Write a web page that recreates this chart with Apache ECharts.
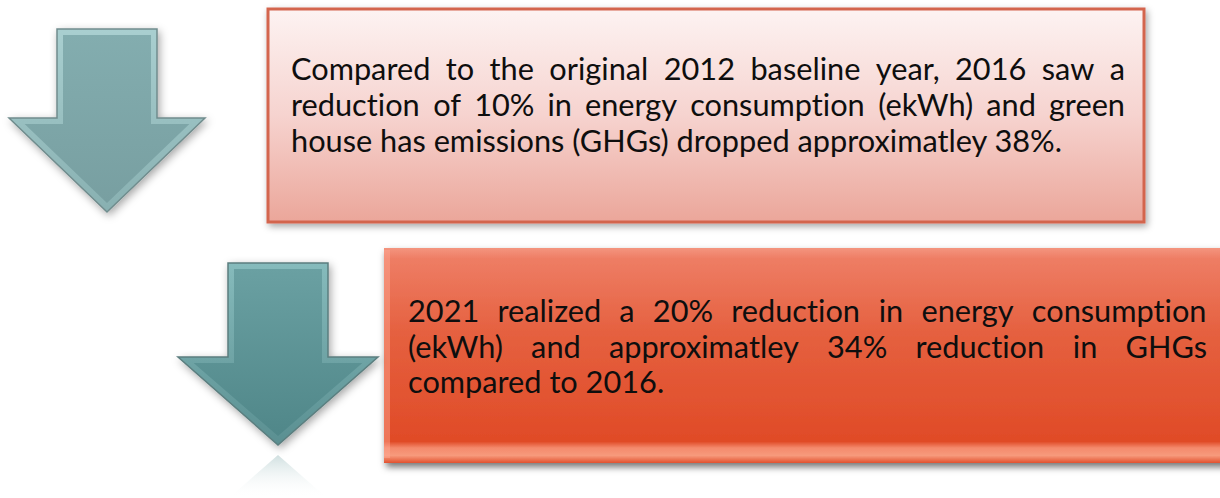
<!DOCTYPE html>
<html><head><meta charset="utf-8">
<script src="https://cdn.jsdelivr.net/npm/echarts@6/dist/echarts.min.js"></script>
<style>html,body{margin:0;padding:0;background:#fff;overflow:hidden}#c{width:1220px;height:498px}
#c text{font-variant-ligatures:none;font-feature-settings:"liga" 0,"clig" 0}</style>
</head><body><div id="c"></div>
<script>
// ---- content ----
const box1Lines = [
  "Compared to the original 2012 baseline year, 2016 saw a",
  "reduction of 10% in energy consumption (ekWh) and green",
  "house has emissions (GHGs) dropped approximatley 38%."
];
const box2Lines = [
  "2021 realized a 20% reduction in energy consumption",
  "(ekWh) and approximatley 34% reduction in GHGs",
  "compared to 2016."
];
const FONT_FAMILY = 'Lato';
const TEXT_COLOR = '#0e0e0e';

// ---- helpers ----
const chart = echarts.init(document.getElementById('c'), null, {renderer: 'svg'});
const mctx = document.createElement('canvas').getContext('2d');
function measure(t, fs) { mctx.font = fs + 'px ' + FONT_FAMILY; return mctx.measureText(t).width; }
const fs = 30 * 772 / measure(box1Lines[2], 30);

function textBlock(lines, left, right, firstBaseline, lineGap) {
  const els = [];
  lines.forEach((line, i) => {
    const y = firstBaseline + i * lineGap - 0.3 * fs;
    const st = {fontSize: fs, fontFamily: FONT_FAMILY, fill: TEXT_COLOR, align: 'left', verticalAlign: 'middle'};
    if (i === lines.length - 1) {
      els.push({type: 'text', x: left, y: y, z: 20, style: Object.assign({text: line}, st)});
      return;
    }
    const words = line.split(' ');
    const ws = words.map(w => measure(w, fs));
    const total = ws.reduce((a, b) => a + b, 0);
    const gap = (right - left - total) / (words.length - 1);
    let x = left;
    words.forEach((w, j) => {
      els.push({type: 'text', x: x, y: y, z: 20, style: Object.assign({text: w}, st)});
      x += ws[j] + gap;
    });
  });
  return els;
}

function arrowPts(cx, sh, top, neck, hh, tip) {
  return [[cx - sh, top], [cx + sh, top], [cx + sh, neck], [cx + hh, neck], [cx, tip], [cx - hh, neck], [cx - sh, neck]];
}
function lg(stops) {
  return new echarts.graphic.LinearGradient(0, 0, 0, 1, stops.map(s => ({offset: s[0], color: s[1]})));
}
function arrow(cx, sh, top, neck, hh, tip, c) {
  const b = 6;
  return [
    {type: 'polygon', z: 5, shape: {points: arrowPts(cx, sh, top, neck, hh, tip)},
     style: {fill: lg([[0, c.bevelTop], [1, c.bevelBot]]), stroke: c.stroke, lineWidth: 1.5,
             shadowBlur: 8, shadowOffsetX: 2, shadowOffsetY: 3, shadowColor: 'rgba(0,0,0,0.35)'}},
    {type: 'polygon', z: 6, shape: {points: arrowPts(cx, sh - b, top + b, neck + b, hh - b * 2.6, tip - b * 1.5)},
     style: {fill: lg([[0, c.top], [1, c.bot]])}}
  ];
}

const graphics = [];
// box 1
graphics.push({type: 'rect', z: 2, shape: {x: 268, y: 9, width: 876, height: 213},
  style: {fill: lg([[0, '#fdf3f2'], [0.5, '#f6d3cf'], [1, '#eba69a']]), stroke: '#d3654e', lineWidth: 3,
          shadowBlur: 7, shadowOffsetX: 2, shadowOffsetY: 3, shadowColor: 'rgba(0,0,0,0.35)'}});
// box 2
graphics.push({type: 'rect', z: 2, shape: {x: 384, y: 248, width: 850, height: 215},
  style: {fill: lg([[0, '#f4957f'], [0.05, '#ee7d64'], [0.4, '#e5603f'], [0.9, '#e04b27'], [0.93, '#f48a6c'], [0.965, '#f79a7c'], [1, '#e2522f']]),
          shadowBlur: 7, shadowOffsetX: 2, shadowOffsetY: 4, shadowColor: 'rgba(0,0,0,0.55)'}});
graphics.push({type: 'rect', z: 3, shape: {x: 384, y: 250, width: 6, height: 208},
  style: {fill: 'rgba(255,170,150,0.45)'}});

// arrows
graphics.push(...arrow(107, 50, 29, 118, 98, 212,
  {bevelTop: '#a9cfd0', bevelBot: '#88b0b1', top: '#83adaf', bot: '#789fa1', stroke: '#708c8d'}));
graphics.push(...arrow(278, 50, 263, 357, 100, 445,
  {bevelTop: '#86bbbc', bevelBot: '#5a8f91', top: '#6aa0a2', bot: '#508789', stroke: '#5b7e7f'}));
// reflection
graphics.push({type: 'polygon', z: 1, shape: {points: [[278, 455], [278 + 49, 498], [278 - 49, 498]]},
  style: {fill: lg([[0, 'rgba(150,185,186,0.45)'], [1, 'rgba(255,255,255,0)']])}});

graphics.push(...textBlock(box1Lines, 291, 1125, 78, 36));
graphics.push(...textBlock(box2Lines, 408, 1207, 320, 35.5));

chart.setOption({animation: false, graphic: {elements: graphics}});
</script></body></html>
